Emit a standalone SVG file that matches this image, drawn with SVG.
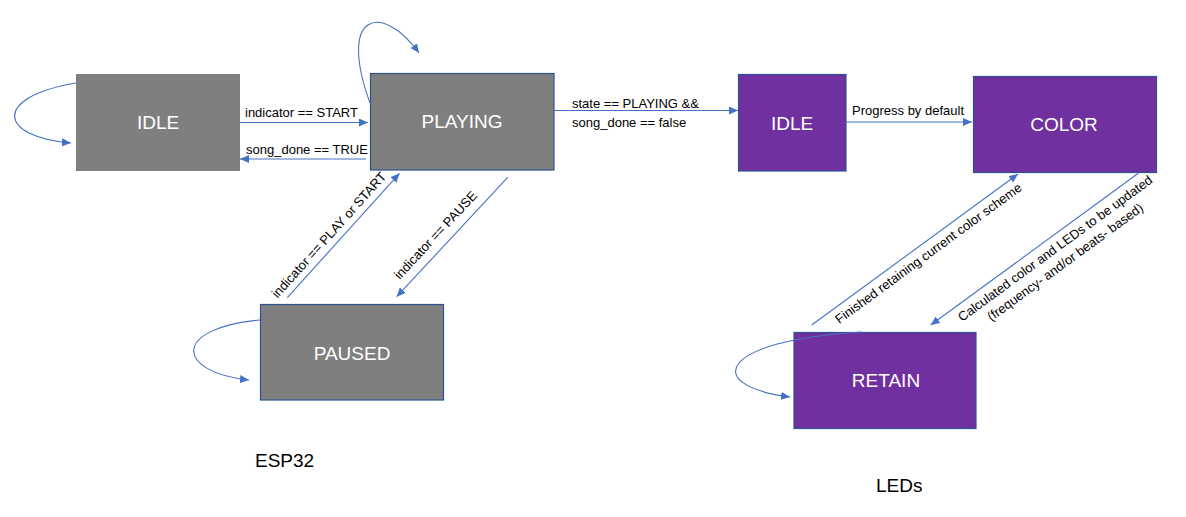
<svg xmlns="http://www.w3.org/2000/svg" width="1186" height="517" viewBox="0 0 1186 517">
<defs>
<style>
.gray{fill:#7f7f7f}
.purple{fill:#7030a0}
.bord{stroke:#2f528f;stroke-width:1.2}
.nl{font-family:"Liberation Sans",Arial,sans-serif;font-size:19px;fill:#ffffff;text-anchor:middle}
.el{font-family:"Liberation Sans",Arial,sans-serif;font-size:13px;fill:#000000}
.mid{text-anchor:middle}
.big{font-family:"Liberation Sans",Arial,sans-serif;font-size:19px;fill:#000000}
.con{fill:none;stroke:#4472c4;stroke-width:1.1;marker-end:url(#ah)}
</style>
<marker id="ah" markerUnits="userSpaceOnUse" markerWidth="10" markerHeight="8" refX="9" refY="4" orient="auto">
<path d="M0,0 L9,4 L0,8 Z" fill="#4472c4"/>
</marker>
</defs>
<rect width="1186" height="517" fill="#ffffff"/>

<g id="esp-idle">
<rect class="gray" x="76" y="74" width="164" height="97"/>
<text class="nl" x="158" y="129">IDLE</text>
</g>
<g id="esp-playing">
<rect class="gray bord" x="370.5" y="73.5" width="183.5" height="96.5"/>
<text class="nl" x="462" y="128.3">PLAYING</text>
</g>
<g id="esp-paused">
<rect class="gray bord" x="260.5" y="304.5" width="183" height="95.5"/>
<text class="nl" x="352" y="360">PAUSED</text>
</g>
<g id="led-idle">
<rect class="purple bord" x="738.5" y="74.5" width="107.5" height="96.5"/>
<text class="nl" x="792" y="130">IDLE</text>
</g>
<g id="led-color">
<rect class="purple bord" x="973.5" y="76.5" width="183" height="96"/>
<text class="nl" x="1064" y="130.5">COLOR</text>
</g>
<g id="led-retain">
<rect class="purple bord" x="794" y="332.5" width="182" height="96"/>
<text class="nl" x="886" y="386.5">RETAIN</text>
</g>

<g id="connectors">
<path class="con" d="M240,122.5 L368,122.5"/>
<path class="con" d="M366,159 L240,159"/>
<path class="con" d="M554,110.5 L738,110.5"/>
<path class="con" d="M846,122 L972,122"/>
<path class="con" d="M287.3,297.7 L399.5,173.3"/>
<path class="con" d="M507.7,177.3 L396.7,296.7"/>
<path class="con" d="M811.7,325 L1018,174"/>
<path class="con" d="M1138.3,173.3 L930.7,325"/>
<path class="con" d="M76,83 C-8,97 -2,137 71,143"/>
<path class="con" d="M370,103 C337,12 382,2 419,53"/>
<path class="con" d="M260,320 C172,328 175,372 249,380"/>
<path class="con" d="M862,332 C720,340 700,385 790,397"/>
</g>

<g id="labels">
<text class="el" x="245" y="117">indicator == START</text>
<text class="el" x="246" y="154">song_done == TRUE</text>
<text class="el" x="572" y="107.5">state == PLAYING &amp;&amp;</text>
<text class="el" x="572" y="127">song_done == false</text>
<text class="el" x="852" y="115">Progress by default</text>
<text class="el mid" transform="translate(332.2,238) rotate(-48)">indicator == PLAY or START</text>
<text class="el mid" transform="translate(438.8,238.1) rotate(-47.1)">indicator == PAUSE</text>
<text class="el mid" transform="translate(931,256.9) rotate(-36.3)">Finished retaining current color scheme</text>
<text class="el mid" transform="translate(1057.7,252) rotate(-36.2)"><tspan x="0" y="0">Calculated color and LEDs to be updated</tspan><tspan x="0" y="17">(frequency- and/or beats- based)</tspan></text>
<text class="big" x="255" y="467">ESP32</text>
<text class="big" x="876" y="492">LEDs</text>
</g>
</svg>
